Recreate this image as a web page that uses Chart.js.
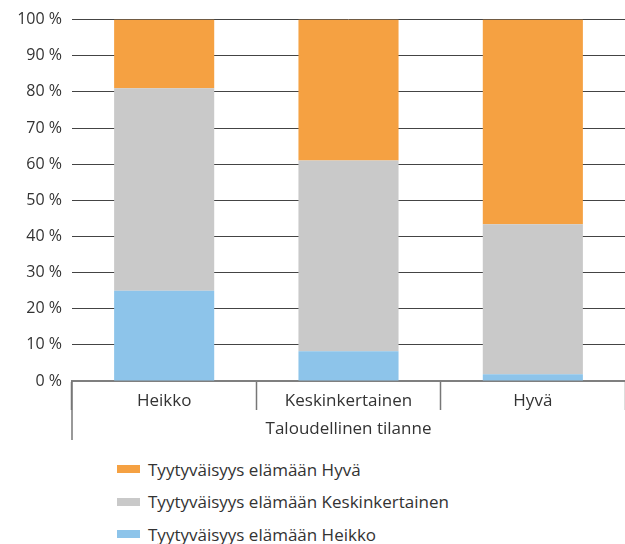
<!DOCTYPE html>
<html>
<head>
<meta charset="utf-8">
<script src="https://cdn.jsdelivr.net/npm/chart.js@4.4.1/dist/chart.umd.min.js"></script>
<style>
body { margin: 0; background: #fff; font-family: "Open Sans", sans-serif; }
#wrap { width: 625px; height: 450px; position: relative; }
#legend { list-style: none; margin: 0; padding: 0; position: absolute; left: 117px; top: 453px; }
#legend li { height: 32.5px; display: flex; align-items: center; font-size: 17px; color: #333; }
#legend .box { display: inline-block; width: 23px; height: 8px; margin-right: 8px; }
</style>
</head>
<body>
<div id="wrap"><canvas id="chart"></canvas></div>
<ul id="legend"></ul>
<script>
// categories and series (percent)
var categories = ['Heikko', 'Keskinkertainen', 'Hyvä'];
var seriesNames = ['Tyytyväisyys elämään Heikko', 'Tyytyväisyys elämään Keskinkertainen', 'Tyytyväisyys elämään Hyvä'];
var heikkoValues = [25, 8.2, 1.9];
var keskiValues = [56, 52.8, 41.5];
var hyvaValues = [19, 39, 56.6];
var axisTitle = 'Taloudellinen tilanne';

var colors = ['#8DC4EA', '#C9C9C9', '#F5A142'];
var textColor = '#333333';

// long left separator under the category row
var leftLine = {
    id: 'leftLine',
    afterDraw: function (chart) {
        var ctx = chart.ctx;
        var x = chart.scales.x;
        ctx.save();
        ctx.strokeStyle = '#777';
        ctx.lineWidth = 1.5;
        ctx.beginPath();
        ctx.moveTo(x.left, x.top);
        ctx.lineTo(x.left, x.bottom - 10);
        ctx.stroke();
        ctx.restore();
    }
};

var chart = new Chart(document.getElementById('chart'), {
    type: 'bar',
    data: {
        labels: categories,
        datasets: [
            { label: seriesNames[0], data: heikkoValues, backgroundColor: colors[0] },
            { label: seriesNames[1], data: keskiValues, backgroundColor: colors[1] },
            { label: seriesNames[2], data: hyvaValues, backgroundColor: colors[2] }
        ]
    },
    options: {
        responsive: true,
        maintainAspectRatio: false,
        animation: false,
        datasets: { bar: { categoryPercentage: 1, barPercentage: 0.543 } },
        layout: { padding: { left: 0, right: 0, top: 16, bottom: 0 } },
        plugins: {
            legend: { display: false },
            tooltip: { enabled: false }
        },
        scales: {
            x: {
                stacked: true,
                afterFit: function (scale) { scale.height = 69; },
                grid: {
                    offset: true,
                    drawOnChartArea: false,
                    drawTicks: true,
                    tickLength: 29,
                    tickColor: '#777',
                    tickWidth: 1.5
                },
                border: { display: true, color: '#7f7f7f', width: 2 },
                ticks: {
                    padding: -19,
                    color: textColor,
                    font: { family: 'Open Sans', size: 17 }
                },
                title: {
                    display: true,
                    text: axisTitle,
                    color: textColor,
                    font: { family: 'Open Sans', size: 17 },
                    padding: { top: 0, bottom: 11 }
                }
            },
            y: {
                stacked: true,
                min: 0,
                max: 100,
                afterFit: function (scale) { scale.width = 72; },
                border: { display: false },
                grid: {
                    color: '#444',
                    lineWidth: 1,
                    drawTicks: false
                },
                ticks: {
                    stepSize: 10,
                    padding: 10,
                    color: textColor,
                    font: { family: 'Open Sans', size: 16 },
                    callback: function (v) { return v + ' %'; }
                }
            }
        }
    },
    plugins: [leftLine]
});

// legend, in reversed order like the original
var ul = document.getElementById('legend');
chart.data.datasets.slice().reverse().forEach(function (ds) {
    var li = document.createElement('li');
    var box = document.createElement('span');
    box.className = 'box';
    box.style.background = ds.backgroundColor;
    li.appendChild(box);
    li.appendChild(document.createTextNode(ds.label));
    ul.appendChild(li);
});
</script>
</body>
</html>
